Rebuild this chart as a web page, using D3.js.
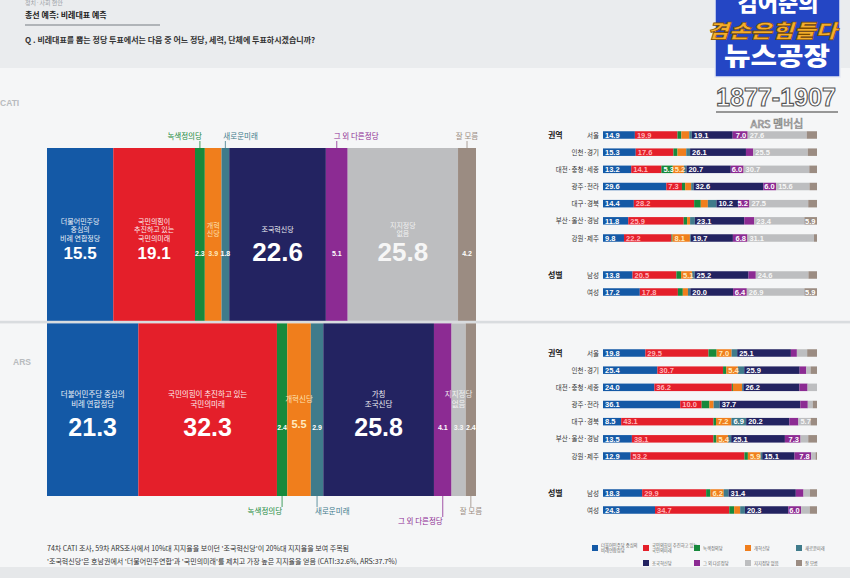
<!DOCTYPE html>
<html>
<head>
<meta charset="utf-8">
<script src="https://cdn.jsdelivr.net/npm/d3@7"></script>
<style>
  body { margin: 0; background: #f5f6f7; }
  svg { display: block; font-family: "Noto Sans CJK KR", "Noto Sans", sans-serif; }
</style>
</head>
<body>
<svg id="chart" width="850" height="578"></svg>
<script>
/* ---- data ---- */
const partyNames = ['더불어민주당 중심의\n비례연합정당', '국민의힘이 추진하고 있는\n국민의미래', '녹색정의당', '개혁신당',
  '새로운미래', '조국혁신당', '그 외 다른정당', '지지정당 없음', '잘 모름'];
const partyColors = ['#1459a6', '#e41f2a', '#17893c', '#f07e1c', '#3f7b8b', '#232361', '#8c2b93', '#bdbec0', '#9b8c82'];
// small labels inside the breakdown bars
const partyTextColors = ['#ffffff', '#ffb3b9', '#ffffff', '#ffeabf', '#ffffff', '#ffffff', '#ffffff', '#f6f6f6', '#ffffff'];
// labels inside the two big bars
const mainTextColors = ['#ffffff', '#ffffff', '#ffffff', '#ffeabf', '#ffffff', '#ffffff', '#ffffff', '#f6f6f6', '#ffffff'];

const catiTotal = [15.5, 19.1, 2.3, 3.9, 1.8, 22.6, 5.1, 25.8, 4.2];
const arsTotal = [21.3, 32.3, 2.4, 5.5, 2.9, 25.8, 4.1, 3.3, 2.4];

const catiInnerNames = ['더불어민주당\n중심의\n비례 연합정당', '국민의힘이\n추진하고 있는\n국민의미래', '', '개혁\n신당', '', '조국혁신당', '', '지지정당\n없음', ''];
const arsInnerNames = ['더불어민주당 중심의\n비례 연합정당', '국민의힘이 추진하고 있는\n국민의미래', '', '개혁신당', '', '가칭\n조국신당', '', '지지정당\n없음', ''];
const outsideNames = ['', '', '녹색정의당', '', '새로운미래', '', '그 외 다른정당', '', '잘 모름'];

const regions = ['서울', '인천·경기', '대전·충청·세종', '광주·전라', '대구·경북', '부산·울산·경남', '강원·제주'];
const genders = ['남성', '여성'];

const catiByRegion = [
  [14.9, 19.9, 1.8, 3.7, 1.2, 19.1, 7.0, 27.6, 4.8],
  [15.3, 17.6, 1.9, 4.1, 1.8, 26.1, 3.4, 25.5, 4.3],
  [13.2, 14.1, 5.3, 5.2, 1.2, 20.7, 6.0, 30.7, 3.6],
  [29.6, 7.3, 1.5, 2.8, 1.1, 32.6, 6.0, 15.6, 3.5],
  [14.4, 28.2, 3.1, 3.3, 4.0, 10.2, 5.2, 27.5, 4.1],
  [11.8, 25.9, 1.6, 1.4, 2.2, 23.1, 4.7, 23.4, 5.9],
  [9.8, 22.2, 0.5, 8.1, 0.4, 19.7, 6.8, 31.1, 1.4]
];
const catiByGender = [
  [13.8, 20.5, 2.2, 5.1, 1.2, 25.2, 3.4, 24.6, 4.0],
  [17.2, 17.8, 2.3, 2.4, 1.1, 20.0, 6.4, 26.9, 5.9]
];
const arsByRegion = [
  [19.8, 29.5, 3.8, 7.0, 2.6, 25.1, 2.8, 4.8, 4.6],
  [25.4, 30.7, 1.5, 5.4, 3.0, 25.9, 3.1, 2.0, 3.0],
  [24.0, 36.2, 0.5, 4.3, 0.6, 26.2, 3.8, 4.4, 0.0],
  [36.1, 10.0, 3.6, 2.0, 2.8, 37.7, 3.5, 2.3, 2.0],
  [8.5, 43.1, 1.2, 7.2, 6.9, 20.2, 4.2, 5.7, 3.0],
  [13.5, 38.1, 1.4, 5.4, 1.5, 25.1, 7.3, 3.6, 4.1],
  [12.9, 53.2, 1.6, 5.9, 0.8, 15.1, 7.8, 2.0, 0.7]
];
const arsByGender = [
  [18.3, 29.9, 2.0, 6.2, 2.3, 31.4, 3.6, 3.0, 3.3],
  [24.3, 34.7, 2.3, 2.8, 2.2, 20.3, 6.0, 4.0, 3.4]
];

const notes = [
  "74차 CATI 조사, 59차 ARS조사에서 10%대 지지율을 보이던 '조국혁신당'이 20%대 지지율을 보여 주목됨",
  "'조국혁신당'은 호남권에서 '더불어민주연합'과 '국민의미래'를 제치고 가장 높은 지지율을 얻음 (CATI:32.6%, ARS:37.7%)"
];

/* ---- helpers ---- */
const svg = d3.select('#chart');
const W = 850, H = 578;
const numFont = '"Liberation Sans", "Noto Sans", sans-serif';

function stack(vals) {
  let c = 0;
  return vals.map((v, i) => { const s = { i, v, x0: c, x1: c + v }; c += v; return s; });
}

/* ---- background ---- */
svg.append('rect').attr('width', W).attr('height', H).attr('fill', '#f5f6f7');
svg.append('rect').attr('width', W).attr('height', 68).attr('fill', '#eaecee');
svg.append('rect').attr('y', 567).attr('width', W).attr('height', 11).attr('fill', '#e6e8ea');
svg.append('rect').attr('y', 320.8).attr('width', W).attr('height', 2.6).attr('fill', '#d9dcdf');

/* ---- header ---- */
svg.append('text').attr('x', 25).attr('y', 5).attr('font-size', 6).attr('fill', '#9ba0a5').text('정치·사회 현안');
svg.append('text').attr('x', 25).attr('y', 18).attr('font-size', 8).attr('font-weight', 700).attr('fill', '#222').text('총선 예측: 비례대표 예측');
svg.append('line').attr('x1', 25).attr('x2', 160).attr('y1', 25).attr('y2', 25).attr('stroke', '#b0b4b8').attr('stroke-width', 2);
svg.append('text').attr('x', 25).attr('y', 43).attr('font-size', 8).attr('font-weight', 700).attr('fill', '#333')
  .text('Q . 비례대표를 뽑는 정당 투표에서는 다음 중 어느 정당, 세력, 단체에 투표하시겠습니까?');

svg.append('text').attr('x', 0).attr('y', 106).attr('font-size', 8.5).attr('font-weight', 700).attr('fill', '#b8bbbe')
  .attr('font-family', numFont).text('CATI');
svg.append('text').attr('x', 13).attr('y', 365).attr('font-size', 8.5).attr('font-weight', 700).attr('fill', '#b8bbbe')
  .attr('font-family', numFont).text('ARS');

/* ---- main stacked bars ---- */
const xMain = d3.scaleLinear().range([47, 476]);

function drawMain(vals, names, cfg) {
  const x = xMain.copy().domain([0, d3.sum(vals)]);
  const segs = stack(vals);
  const g = svg.append('g');

  g.selectAll('rect').data(segs).join('rect')
    .attr('x', d => x(d.x0)).attr('width', d => x(d.x1) - x(d.x0))
    .attr('y', cfg.y0).attr('height', cfg.y1 - cfg.y0)
    .attr('fill', d => partyColors[d.i]);

  segs.forEach(d => {
    const cx = (x(d.x0) + x(d.x1)) / 2;
    const col = mainTextColors[d.i];
    const lines = names[d.i] ? names[d.i].split('\n') : [];
    lines.forEach((t, k) => {
      g.append('text').attr('x', cx).attr('y', cfg.nameMid + (k - (lines.length - 1) / 2) * cfg.gap + 3)
        .attr('text-anchor', 'middle').attr('font-size', cfg.nameSize).attr('fill', col)
        .attr('opacity', 0.92).text(t);
    });
    let size = 7, base = cfg.smallBase;
    if (d.v >= 20) { size = cfg.bigSize; base = cfg.bigBase; }
    else if (d.v >= 10) { size = 17; base = cfg.bigBase - 2; }
    else if (d.v >= 5 && lines.length) { size = 11; base = cfg.smallBase - 2; }
    g.append('text').attr('x', cx).attr('y', base).attr('text-anchor', 'middle')
      .attr('font-family', numFont).attr('font-weight', 700).attr('font-size', size)
      .attr('fill', col).text(d3.format('.1f')(d.v));

    const lab = outsideNames[d.i];
    if (!lab) return;
    const o = cfg.outside[d.i];
    g.append('line').attr('x1', cx).attr('x2', cx).attr('y1', o.ly1).attr('y2', o.ly2)
      .attr('stroke', partyColors[d.i]).attr('stroke-width', 0.8);
    g.append('text').attr('x', cx + o.dx).attr('y', o.ty).attr('text-anchor', o.anchor)
      .attr('font-size', 7.5).attr('fill', partyColors[d.i]).text(lab);
  });
}

drawMain(catiTotal, catiInnerNames, {
  y0: 148, y1: 320.8, nameMid: 229, gap: 8.5, nameSize: 7,
  bigSize: 26, bigBase: 261, smallBase: 256,
  outside: {
    2: { ly1: 141, ly2: 148, ty: 139, dx: 2, anchor: 'end' },
    4: { ly1: 141, ly2: 148, ty: 139, dx: -2, anchor: 'start' },
    6: { ly1: 141, ly2: 148, ty: 139, dx: -3, anchor: 'start' },
    8: { ly1: 141, ly2: 148, ty: 139, dx: 0, anchor: 'middle' }
  }
});

drawMain(arsTotal, arsInnerNames, {
  y0: 323.4, y1: 496, nameMid: 399, gap: 10, nameSize: 7.5,
  bigSize: 25, bigBase: 436, smallBase: 430,
  outside: {
    2: { ly1: 496, ly2: 507, ty: 514, dx: 0, anchor: 'end' },
    4: { ly1: 496, ly2: 507, ty: 514, dx: -2, anchor: 'start' },
    6: { ly1: 496, ly2: 517, ty: 524, dx: 0, anchor: 'end' },
    8: { ly1: 496, ly2: 507, ty: 514, dx: 0, anchor: 'middle' }
  }
});

/* ---- breakdown panels ---- */
const xPanel = d3.scaleLinear().domain([0, 100]).range([603, 817]);
const barH = 7.5;

function drawRow(g, vals, y) {
  const x = xPanel.copy().domain([0, d3.sum(vals)]);
  const segs = stack(vals);
  g.append('g').selectAll('rect').data(segs).join('rect')
    .attr('x', d => x(d.x0)).attr('width', d => Math.max(0, x(d.x1) - x(d.x0)))
    .attr('y', y - barH / 2).attr('height', barH)
    .attr('fill', d => partyColors[d.i]);
  g.append('g').selectAll('text').data(segs.filter(d => d.v >= 5)).join('text')
    .attr('x', d => (d.i === 6 || d.i === 8) ? x(d.x1) - 1.5 : x(d.x0) + 2)
    .attr('text-anchor', d => (d.i === 6 || d.i === 8) ? 'end' : 'start')
    .attr('y', y + 2.8)
    .attr('font-family', numFont).attr('font-weight', 700).attr('font-size', 7.5)
    .attr('fill', d => partyTextColors[d.i])
    .text(d => d3.format('.1f')(d.v));
}

function drawPanel(byRegion, byGender, dy) {
  const g = svg.append('g');
  const yR = d3.scalePoint().domain(regions).range([135 + dy, 238 + dy]);
  const yG = d3.scalePoint().domain(genders).range([275 + dy, 292 + dy]);

  g.append('text').attr('x', 548).attr('y', yR(regions[0]) + 3).attr('font-size', 8).attr('font-weight', 700).attr('fill', '#222').text('권역');
  g.append('text').attr('x', 548).attr('y', yG(genders[0]) + 3).attr('font-size', 8).attr('font-weight', 700).attr('fill', '#222').text('성별');

  regions.forEach((r, k) => {
    g.append('text').attr('x', 599).attr('y', yR(r) + 2.5).attr('text-anchor', 'end')
      .attr('font-size', 6.5).attr('fill', '#333').text(r);
    drawRow(g, byRegion[k], yR(r));
  });
  genders.forEach((s, k) => {
    g.append('text').attr('x', 599).attr('y', yG(s) + 2.5).attr('text-anchor', 'end')
      .attr('font-size', 6.5).attr('fill', '#333').text(s);
    drawRow(g, byGender[k], yG(s));
  });
}

drawPanel(catiByRegion, catiByGender, 0);
drawPanel(arsByRegion, arsByGender, 218);

/* ---- legend ---- */
const legend = svg.append('g');
partyNames.forEach((name, i) => {
  const row = i < 5 ? 0 : 1;
  const col = i < 5 ? i : i - 4;
  const lx = 592 + col * 51, ly = 545 + row * 15;
  legend.append('rect').attr('x', lx).attr('y', ly).attr('width', 6).attr('height', 6).attr('fill', partyColors[i]);
  name.split('\n').forEach((t, k) => {
    legend.append('text').attr('x', lx + 9).attr('y', ly + 3.5 + k * 5 - (name.includes('\n') ? 1.5 : -1))
      .attr('font-size', 4.3).attr('fill', '#666').text(t);
  });
});

/* ---- notes ---- */
notes.forEach((t, k) => {
  svg.append('text').attr('x', 47).attr('y', 551 + k * 13).attr('font-size', 7).attr('fill', '#333').text(t);
});

/* ---- broadcast badge ---- */
const badge = svg.append('g');
badge.append('rect').attr('x', 715).attr('y', -4).attr('width', 125).attr('height', 81)
  .attr('fill', '#2446c4').attr('stroke', '#e6eaf4').attr('stroke-width', 1.5);
badge.append('text').attr('x', 778).attr('y', 11).attr('text-anchor', 'middle').attr('font-size', 22)
  .attr('font-weight', 900).attr('fill', '#fff').text('김어준의');
badge.append('text').attr('x', 707).attr('y', 38).attr('font-size', 19).attr('font-weight', 900)
  .attr('font-style', 'italic').attr('fill', '#f5ad2a').attr('stroke', '#7a4a00').attr('stroke-width', 0.6)
  .attr('textLength', 130).attr('lengthAdjust', 'spacingAndGlyphs').text('겸손은힘들다');
badge.append('text').attr('x', 724).attr('y', 65).attr('font-size', 25).attr('font-weight', 900)
  .attr('fill', '#fff').attr('textLength', 106).attr('lengthAdjust', 'spacingAndGlyphs').text('뉴스공장');
badge.append('text').attr('x', 716).attr('y', 106).attr('font-family', numFont).attr('font-size', 25)
  .attr('font-weight', 700).attr('fill', '#fff').attr('stroke', '#555').attr('stroke-width', 1.1)
  .attr('textLength', 120).attr('lengthAdjust', 'spacingAndGlyphs').text('1877-1907');
badge.append('line').attr('x1', 716).attr('x2', 838).attr('y1', 112).attr('y2', 112).attr('stroke', '#777').attr('stroke-width', 1.5);
badge.append('text').attr('x', 777).attr('y', 128).attr('text-anchor', 'middle').attr('font-size', 11)
  .attr('fill', '#fff').attr('stroke', '#888').attr('stroke-width', 0.7).text('ARS 멤버십');
</script>
</body>
</html>
